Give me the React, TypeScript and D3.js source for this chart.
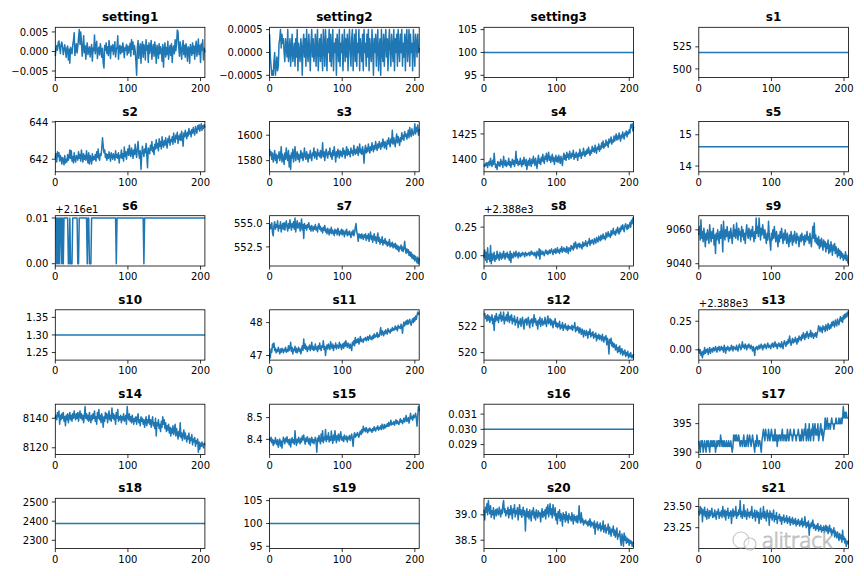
import React from "react";
import * as d3 from "d3";

// ---------------- data (index = cycle 0..206) ----------------
const cycleCount = 207;
const xMax = 206;
const xTicks = [0, 100, 200];

const setting1 = [
-0.0012,0.0008,0.0015,0.0003,0.0022,0.0027,0.001,-0.0005,0.0018,0.0024,
0.0012,-0.0008,0.0005,0.0017,0.0002,-0.0015,0.0009,0.0014,-0.0022,0.0006,
-0.003,0.0011,0.0003,-0.0006,0.0016,0.0028,0.0048,-0.001,0.0005,0.002,
-0.0004,0.0012,0.0035,0.0056,0.0018,0.005,0.0025,-0.0012,0.0008,0.004,
-0.0003,0.0015,-0.002,0.0007,0.0022,-0.0008,0.0003,0.0012,-0.0014,0.0005,
0.0018,-0.0025,0.0009,0.0002,0.0042,-0.0006,0.0014,0.0026,-0.0018,0.0004,
0.0011,-0.0009,0.002,0.0006,-0.0015,0.0008,-0.003,-0.0042,0.0015,0.0003,
0.0022,-0.0005,0.0012,-0.001,0.0028,0.0006,-0.0018,0.0014,0.0002,0.0017,
-0.0008,0.0009,0.0025,-0.0014,0.0004,0.0011,0.004,-0.002,0.0007,0.0016,
-0.0006,0.0013,-0.0002,0.0022,0.0005,-0.0016,0.001,0.0003,0.0018,-0.0009,
0.0014,-0.0004,0.0008,0.0021,-0.0012,0.003,0.0006,0.0024,-0.0008,0.0015,
0.0002,-0.0025,-0.0061,0.001,0.0028,-0.0018,0.0005,0.002,-0.003,0.0012,
0.0025,-0.0015,0.0018,0.0008,-0.0022,0.003,0.0003,0.0015,-0.0028,0.0022,
-0.0005,0.001,0.0028,-0.002,0.0006,0.0018,-0.0012,0.0024,0.0004,-0.003,
0.0016,0.0008,-0.0018,0.002,-0.0006,0.0012,0.0003,-0.0025,0.0018,-0.004,
0.0006,0.0022,-0.0014,0.001,-0.0008,0.0026,-0.002,0.0004,0.0015,-0.001,
0.002,-0.0028,0.0008,0.0014,-0.0006,0.003,0.0002,0.0018,0.0055,0.005,
0.001,-0.0012,0.0025,0.0005,-0.002,0.0012,0.0028,-0.0008,0.0016,-0.0015,
0.002,0.0004,-0.0025,0.0012,0.0008,-0.003,0.0018,0.0006,-0.001,0.0022,
-0.0005,0.0014,-0.002,0.001,0.0026,-0.0012,0.0005,0.0032,-0.0008,0.0015,
-0.0028,0.002,0.0003,0.003,-0.0022,0.0008,-0.0002];

const setting2 = [
0.0004,-0.0001,-0.0003,-0.0005,-0.0004,-0.0005,-0.0002,0,-0.0005,-0.0003,
-0.0001,-0.0004,-0.0003,0.0002,0.0003,0.0005,0.0001,0.0004,0.0002,0.0003,
0,-0.0002,0.0003,0.0001,-0.0001,0.0005,-0.0002,0,0.0003,-0.0003,
0.0001,0.0004,-0.0002,0,0.0002,-0.0003,0.0003,-0.0001,0.0005,-0.0004,
0.0002,0,-0.0002,0.0003,0.0001,-0.0005,0.0002,0.0004,-0.0001,0.0003,
-0.0003,0.0005,0,-0.0002,0.0004,0.0001,-0.0004,0.0002,0.0005,-0.0001,
0.0003,-0.0002,0,0.0004,-0.0003,0.0002,0.0005,-0.0004,0.0001,0.0003,
-0.0002,0.0004,0,-0.0004,0.0005,0.0002,-0.0003,0.0005,0.0001,-0.0004,
0.0003,0,0.0005,-0.0002,0.0004,-0.0003,0.0001,0.0005,-0.0004,0.0002,
0,0.0003,-0.0005,0.0004,0.0001,-0.0002,0.0005,-0.0003,0.0002,0,
0.0004,-0.0004,0.0001,0.0005,-0.0002,0.0003,-0.0001,0.0004,-0.0004,0.0002,
0.0005,0,-0.0003,0.0003,0.0005,-0.0004,0.0001,0.0004,-0.0002,0.0005,
-0.0003,0.0002,0,0.0005,-0.0004,0.0003,0.0001,-0.0002,0.0004,-0.0004,
0.0005,0,0.0002,-0.0003,0.0004,-0.0001,0.0005,-0.0004,0.0003,0,
-0.0002,0.0005,0.0001,-0.0005,0.0003,0,0.0004,-0.0003,0.0002,0.0005,
-0.0004,0.0001,0.0003,-0.0005,0.0005,0,-0.0002,0.0004,-0.0003,0.0002,
0.0005,-0.0001,0.0003,-0.0004,0.0002,0.0005,0,-0.0003,0.0004,0.0001,
-0.0002,0.0005,-0.0004,0.0003,0,0.0004,-0.0003,0.0005,0.0001,-0.0002,
0.0004,0,0.0005,-0.0003,0.0002,-0.0001,0.0004,-0.0004,0.0003,0.0005,
-0.0002,0.0001,0.0005,-0.0003,0.0004,0,0.0002,-0.0004,0.0005,0.0001,
-0.0003,0.0004,0.0002,-0.0001,0.0004,0,0.0001];

const setting3 = 100;
const s1 = 518.67;

const s2 = [
642.05,642.30,641.85,642.40,642.15,642.35,641.90,642.20,642.05,641.75,
642.10,641.95,641.70,642.20,641.80,642.00,641.85,642.25,641.95,642.10,
642.50,642.05,642.45,641.90,642.15,641.80,642.35,642.00,641.85,642.20,
642.10,641.95,642.40,642.05,642.25,641.90,642.50,642.15,641.85,642.30,
642.00,642.20,641.95,642.45,642.10,641.80,642.35,641.75,642.20,642.05,
641.75,642.30,641.95,642.15,642.00,642.25,641.90,642.40,642.10,642.55,
642.05,641.95,642.30,642.20,642.60,643.15,642.70,642.35,642.50,642.10,
642.30,641.95,642.25,642.05,642.40,642.15,641.90,642.35,642.20,642.00,
642.30,642.15,641.95,642.45,642.10,642.25,642.05,642.35,641.80,642.20,
642.10,642.50,642.05,642.30,641.90,642.65,642.15,642.40,642.00,642.35,
642.55,642.20,642.75,642.30,642.15,642.60,642.40,642.05,642.50,642.25,
642.80,642.35,642.10,642.60,642.95,642.30,642.05,642.45,641.45,642.20,
642.70,642.40,642.15,642.55,642.35,642.85,642.20,641.55,642.60,642.45,
642.30,642.75,642.50,642.95,642.40,642.65,642.25,642.80,642.55,643.05,
642.60,642.85,642.45,643.10,642.70,642.95,642.55,643.20,642.80,642.65,
643.00,642.75,643.15,642.85,642.60,643.10,642.90,643.25,642.75,643.05,
642.95,643.20,642.80,643.40,643.05,642.90,643.30,643.10,643.45,642.85,
643.25,643.05,643.35,643.00,643.50,643.15,642.70,643.40,643.20,643.55,
643.30,643.10,643.45,643.25,643.65,643.35,643.50,643.20,643.60,643.40,
643.70,643.45,643.30,643.75,643.55,643.40,643.80,643.60,643.85,643.50,
643.75,643.90,643.55,643.80,643.65,643.85,643.70];

const s3 = [
1589,1584,1587,1581,1586,1579,1583,1588,1580,1585,
1578,1584,1582,1587,1580,1583,1591,1579,1585,1582,
1577,1586,1581,1590,1583,1580,1588,1575,1584,1573,
1586,1582,1589,1579,1585,1591,1580,1584,1587,1581,
1585,1579,1583,1588,1582,1586,1580,1584,1590,1583,
1581,1587,1584,1579,1585,1582,1588,1583,1580,1586,
1584,1590,1582,1587,1585,1581,1589,1584,1586,1583,
1588,1582,1585,1594,1583,1587,1580,1586,1589,1584,
1582,1587,1585,1590,1583,1586,1581,1588,1584,1591,
1585,1579,1587,1583,1589,1586,1582,1588,1584,1587,
1583,1590,1585,1588,1582,1586,1591,1584,1589,1585,
1587,1583,1590,1586,1588,1584,1592,1587,1585,1589,
1586,1591,1584,1588,1593,1586,1589,1585,1591,1587,
1578,1588,1592,1586,1590,1587,1593,1589,1586,1591,
1588,1594,1590,1587,1592,1589,1595,1591,1588,1593,
1590,1595,1592,1589,1594,1591,1597,1593,1590,1595,
1592,1589,1596,1593,1598,1594,1591,1597,1594,1604,
1593,1598,1595,1591,1597,1601,1594,1599,1596,1592,
1598,1595,1602,1597,1600,1596,1603,1599,1601,1597,
1600,1604,1598,1606,1601,1599,1605,1602,1600,1603,
1609,1601,1606,1603,1608,1600,1605];

const s4 = [
1395,1393,1396,1394,1397,1392,1396,1398,1394,1401,
1396,1393,1399,1395,1406,1397,1392,1395,1390,1398,
1394,1397,1393,1400,1395,1398,1392,1403,1396,1394,
1399,1393,1397,1395,1401,1394,1398,1392,1396,1400,
1395,1399,1393,1397,1408,1396,1400,1394,1398,1395,
1401,1396,1393,1399,1395,1402,1397,1394,1400,1390,
1396,1399,1394,1401,1397,1393,1400,1396,1403,1398,
1394,1401,1397,1391,1399,1404,1396,1400,1395,1402,
1398,1405,1399,1396,1403,1400,1406,1398,1402,1407,
1399,1403,1397,1401,1405,1398,1402,1395,1400,1404,
1398,1402,1397,1404,1400,1396,1403,1399,1394,1402,
1406,1400,1404,1399,1407,1402,1405,1400,1408,1403,
1401,1406,1403,1409,1400,1405,1402,1407,1404,1399,
1406,1403,1410,1405,1401,1407,1404,1411,1406,1403,
1408,1405,1410,1406,1412,1407,1404,1409,1406,1413,
1408,1411,1407,1414,1409,1406,1412,1410,1415,1408,
1413,1410,1416,1412,1418,1411,1415,1413,1419,1414,
1417,1412,1420,1416,1418,1422,1415,1419,1417,1423,
1418,1421,1425,1419,1423,1420,1426,1422,1418,1424,
1421,1427,1423,1420,1426,1424,1428,1422,1427,1425,
1429,1426,1434,1431,1435,1428,1432];

const s5 = 14.62;

// s6 sits at 21.61 except at these cycles, where it reads 21.60
const s6High = 21.61;
const s6Low = 21.6;
const s6LowCycles = [2, 4, 6, 9, 11, 18, 19, 21, 22, 23, 31, 32, 44, 47, 48, 49, 84, 122];

const s7 = [
554.3,554.9,554.5,555.1,554.0,553.7,554.8,555.2,554.4,554.9,
554.6,555.3,554.2,554.8,554.5,555.2,554.1,554.7,555.0,554.4,
555.1,554.3,554.9,555.3,554.6,554.2,555.0,554.5,555.4,554.8,
554.3,555.0,554.6,555.2,554.4,555.6,554.1,554.9,555.3,554.5,
554.8,555.1,554.2,554.7,555.5,554.3,554.9,553.4,555.0,554.5,
554.8,554.3,554.9,554.6,555.1,554.4,554.7,554.2,554.8,554.5,
554.2,554.7,554.4,554.9,554.3,554.6,554.1,554.8,555.0,554.4,
554.7,554.2,554.5,554.0,554.6,554.3,554.8,554.1,554.4,553.9,
554.5,554.2,553.8,554.4,554.0,554.6,553.9,554.3,554.1,553.7,
554.4,554.0,554.3,553.8,554.5,554.1,553.7,554.2,553.9,554.4,
553.8,554.3,554.0,553.6,554.2,553.9,554.4,553.7,554.1,553.8,
554.2,553.9,553.5,554.1,553.8,554.3,553.7,554.0,554.6,555.0,
554.1,553.8,553.1,553.9,553.5,553.8,553.4,553.9,553.6,553.3,
553.8,553.5,553.9,553.2,553.7,553.4,553.9,553.1,553.6,554.1,
553.3,553.7,553.0,553.5,553.9,553.2,553.6,552.9,553.4,554.0,
553.1,553.5,552.8,553.3,553.0,553.6,552.7,553.2,552.9,553.4,
552.8,553.1,552.6,553.0,552.7,553.3,552.5,552.9,552.6,553.0,
552.4,552.8,552.5,552.9,552.3,552.7,552.2,552.6,552.0,552.5,
552.3,552.7,552.1,552.5,552.0,552.4,553.1,552.2,551.8,552.3,
551.9,552.2,551.6,552.0,551.5,551.9,551.3,551.7,551.2,551.6,
551.0,551.5,551.2,550.8,551.4,550.7,551.3];

const s8 = [
2387.98,2388.05,2387.96,2388.03,2387.94,2388.07,2387.97,2388.01,2387.95,2388.09,
2387.93,2388.02,2387.96,2387.99,2388.03,2387.95,2388,2387.97,2388.04,2387.98,
2388.01,2387.96,2388.03,2387.99,2387.97,2388.02,2387.98,2388.04,2388,2387.97,
2388.02,2387.99,2388.03,2387.98,2388.01,2387.96,2388.04,2387.94,2388.02,2388,
2387.98,2388.03,2388.01,2387.99,2388.04,2388,2388.02,2387.98,2388.03,2388.01,
2387.99,2388.02,2388,2388.03,2388.01,2388.02,2387.99,2388.03,2388.02,2388,
2388.02,2388.01,2388.03,2388,2388.02,2388.04,2388.01,2388.03,2388.02,2388,
2388.03,2388.01,2387.98,2388.04,2388.02,2388,2388.06,2387.97,2388.05,2388.02,
2388.01,2388.04,2388.02,2388,2388.03,2388.05,2388.02,2388.04,2388.01,2388.03,
2388.05,2388.02,2388.04,2388.06,2388.03,2388.01,2388.05,2388.03,2388.06,2388.02,
2388.04,2388.07,2388.03,2388.05,2388.02,2388.06,2388.04,2388.08,2388.03,2388.05,
2388.07,2388.04,2388.06,2388.03,2388.08,2388.05,2388.02,2388.07,2388.06,2388.04,
2388.09,2388.06,2388.08,2388.05,2388.11,2388.07,2388.12,2388.09,2388.06,2388.1,
2388.08,2388.11,2388.07,2388.1,2388.09,2388.06,2388.12,2388.08,2388.11,2388.09,
2388.13,2388.1,2388.08,2388.12,2388.11,2388.15,2388.09,2388.13,2388.11,2388.14,
2388.12,2388.1,2388.15,2388.13,2388.11,2388.16,2388.14,2388.12,2388.17,2388.15,
2388.13,2388.18,2388.14,2388.16,2388.19,2388.15,2388.17,2388.14,2388.2,2388.16,
2388.18,2388.21,2388.17,2388.19,2388.16,2388.22,2388.18,2388.2,2388.24,2388.19,
2388.21,2388.18,2388.23,2388.2,2388.25,2388.22,2388.19,2388.24,2388.21,2388.26,
2388.23,2388.27,2388.24,2388.21,2388.26,2388.28,2388.25,2388.23,2388.27,2388.24,
2388.26,2388.29,2388.25,2388.31,2388.28,2388.33,2388.32];

const s9 = [
9057,9062,9054,9066,9055,9059,9053,9061,9056,9050,
9058,9054,9060,9056,9052,9063,9057,9053,9059,9055,
9061,9051,9057,9046,9058,9054,9060,9056,9052,9059,
9055,9063,9057,9047,9065,9058,9054,9060,9056,9062,
9057,9053,9059,9055,9061,9057,9052,9058,9063,9056,
9060,9055,9064,9058,9054,9061,9057,9059,9053,9062,
9056,9060,9054,9058,9052,9059,9063,9057,9055,9061,
9058,9054,9060,9056,9062,9057,9053,9059,9055,9067,
9058,9062,9056,9067,9060,9054,9061,9057,9063,9059,
9055,9060,9056,9052,9058,9054,9065,9057,9053,9048,
9058,9054,9060,9055,9062,9057,9053,9059,9055,9050,
9057,9053,9059,9055,9061,9056,9052,9058,9054,9060,
9056,9052,9058,9054,9050,9057,9053,9059,9055,9051,
9057,9053,9059,9055,9052,9058,9054,9056,9050,9055,
9057,9053,9058,9054,9056,9051,9057,9053,9055,9059,
9054,9056,9052,9058,9054,9050,9056,9062,9055,9064,
9053,9057,9052,9055,9051,9056,9049,9054,9050,9055,
9052,9048,9054,9050,9053,9047,9052,9049,9054,9046,
9051,9047,9053,9049,9045,9051,9048,9052,9046,9050,
9047,9044,9049,9045,9048,9043,9047,9044,9046,9042,
9045,9043,9047,9042,9045,9041,9040];

const s10 = 1.3;

const s11 = [
47.05,46.93,47.20,47.10,47.35,47.25,47.38,47.15,47.22,47.08,
47.18,47.12,47.25,47.15,47.05,47.20,47.10,47.22,47.16,47.08,
47.20,47.14,47.25,47.10,47.18,47.12,47.30,47.15,47.22,47.40,
47.12,47.25,47.05,47.20,47.15,47.28,47.10,47.22,47.08,47.18,
47.25,47.12,47.20,47.05,47.18,47.30,47.15,47.50,47.22,47.35,
47.18,47.28,47.12,47.25,47.20,47.32,47.15,47.25,47.40,47.18,
47.28,47.15,47.22,47.35,47.18,47.26,47.12,47.30,47.20,47.38,
47.22,47.15,47.30,47.25,47.45,47.18,47.28,47.00,47.22,47.32,
47.20,47.35,47.25,47.18,47.42,47.28,47.22,47.35,47.15,47.30,
47.25,47.38,47.20,47.32,47.28,47.22,47.40,47.26,47.34,47.18,
47.30,47.36,47.22,47.40,47.28,47.45,47.32,47.25,47.38,47.30,
47.22,47.35,47.28,47.15,47.40,47.32,47.45,47.30,47.55,47.38,
47.48,47.40,47.52,47.35,47.45,47.58,47.42,47.50,47.46,47.40,
47.52,47.48,47.55,47.45,47.50,47.58,47.46,47.54,47.62,47.50,
47.56,47.48,47.60,47.52,47.66,47.55,47.62,47.58,47.70,47.55,
47.64,47.58,47.72,47.85,47.62,47.75,47.68,47.60,47.74,47.66,
47.78,47.70,47.65,47.82,47.72,47.76,47.68,47.80,47.74,47.85,
47.76,47.82,47.78,47.90,47.80,47.86,47.75,47.92,47.84,47.88,
47.82,47.95,47.88,47.68,47.92,48.02,47.90,47.98,48.05,47.94,
48.08,47.96,48.02,48.10,47.98,47.92,48.05,48.12,48.00,48.15,
48.05,48.20,48.10,48.22,48.32,48.25,48.30];

const s12 = [
522.9,523.0,522.6,522.8,522.4,522.9,522.5,522.8,522.3,522.7,
522.5,522.9,522.2,522.6,521.7,522.8,522.4,523.0,522.5,522.7,
522.3,522.9,522.6,523.1,522.4,522.8,522.5,523.1,522.2,522.7,
522.5,522.9,522.4,523.1,522.6,522.3,522.8,522.5,522.9,522.2,
522.6,522.4,522.8,522.1,522.5,522.3,522.7,521.9,522.4,522.2,
522.6,522.0,522.4,522.7,522.2,521.8,522.5,522.3,522.6,522.1,
522.4,522.7,522.2,521.9,522.5,522.3,522.6,522.0,522.4,522.9,
522.3,522.6,522.1,522.4,521.8,522.5,522.2,522.7,522.0,522.3,
522.6,522.1,522.4,522.2,522.7,522.3,522.0,522.5,522.8,522.2,
522.4,522.6,522.1,522.5,522.3,521.9,522.4,522.2,522.6,522.0,
522.3,521.9,522.2,522.0,522.4,521.8,522.1,521.9,522.3,521.7,
522.1,521.9,522.2,521.8,522.0,521.7,522.1,521.8,522.0,521.9,
521.8,522.1,521.7,522.0,521.9,522.3,521.6,521.9,521.7,522.0,
521.8,521.5,521.9,521.7,521.4,521.8,521.6,521.2,521.7,521.5,
521.3,521.7,521.5,521.1,521.6,521.4,521.8,521.2,521.5,521.3,
521.6,521.1,521.4,521.2,521.5,520.9,521.3,521.1,521.4,521.0,
521.3,521.2,520.9,521.4,521.1,520.8,521.2,521.0,521.3,520.6,
521.1,520.8,519.9,521.0,520.7,521.1,520.5,520.8,520.4,520.7,
520.5,520.2,520.6,520.3,520.0,520.4,520.1,520.5,519.9,520.2,
520.3,519.8,520.1,519.9,520.2,519.7,520.0,519.8,520.1,519.6,
519.9,519.7,520.0,519.6,519.8,519.6,519.9];

const s13 = [
2388.01,2387.97,2388,2387.95,2387.98,2387.93,2387.99,2387.96,2388.02,2387.97,
2388,2387.98,2388.01,2387.96,2387.99,2388.02,2387.97,2388,2388.01,2387.98,
2388.02,2388,2387.99,2388.03,2388.01,2387.98,2388.02,2388,2388.03,2387.99,
2388.01,2388.03,2388,2388.02,2387.98,2388.04,2388.01,2387.97,2388.02,2388,
2388.03,2388.01,2387.99,2388.02,2388,2388.04,2388.02,2387.99,2388.03,2388.01,
2388.02,2388,2388.04,2388.01,2387.99,2388.03,2388.05,2388.02,2388,2388.03,
2388.07,2388.02,2388.04,2388.01,2388.05,2388.03,2388,2388.04,2388.02,2388.05,
2388.03,2388.01,2388.04,2388.02,2387.99,2388.03,2388,2387.95,2388.02,2388.01,
2388.03,2388,2388.02,2388.04,2388.01,2388.03,2388.05,2388.02,2388,2388.04,
2388.02,2388.05,2388.03,2388.01,2388.04,2388.06,2388.02,2388.04,2388.03,2388.01,
2388.05,2388.03,2388.06,2388.02,2388.04,2388.07,2388.03,2388.05,2388.01,2388.04,
2388.06,2388.03,2388.05,2388.02,2388.07,2388.04,2388.01,2388.06,2388.08,2388.05,
2388.03,2388.07,2388.05,2388.09,2388.06,2388.12,2388.08,2388.04,2388.07,2388.1,
2388.06,2388.09,2388.07,2388.11,2388.08,2388.05,2388.1,2388.07,2388.12,2388.09,
2388.11,2388.08,2388.13,2388.1,2388.15,2388.12,2388.09,2388.14,2388.11,2388.16,
2388.13,2388.1,2388.14,2388.12,2388.17,2388.11,2388.15,2388.13,2388.1,2388.14,
2388.12,2388.15,2388.11,2388.14,2388.17,2388.21,2388.19,2388.16,2388.2,2388.18,
2388.15,2388.21,2388.18,2388.2,2388.16,2388.22,2388.19,2388.17,2388.23,2388.2,
2388.18,2388.22,2388.19,2388.24,2388.21,2388.25,2388.22,2388.2,2388.26,2388.23,
2388.21,2388.27,2388.24,2388.22,2388.26,2388.29,2388.25,2388.28,2388.24,2388.3,
2388.27,2388.31,2388.28,2388.32,2388.29,2388.33,2388.31];

const s14 = [
8140,8142,8139,8144,8141,8145,8136,8142,8139,8143,
8140,8144,8138,8141,8135,8142,8139,8143,8137,8141,
8144,8139,8142,8138,8143,8140,8145,8141,8139,8143,
8140,8144,8138,8142,8145,8140,8143,8139,8142,8137,
8141,8148,8140,8143,8139,8142,8138,8144,8140,8137,
8142,8139,8143,8140,8145,8138,8141,8136,8144,8140,
8146,8139,8142,8137,8143,8140,8134,8141,8138,8144,
8140,8143,8137,8141,8145,8139,8142,8138,8147,8140,
8143,8139,8142,8136,8144,8140,8146,8138,8141,8139,
8142,8137,8141,8139,8143,8138,8140,8142,8136,8148,
8141,8139,8143,8138,8141,8137,8142,8139,8136,8140,
8138,8141,8136,8140,8143,8137,8139,8135,8141,8138,
8140,8136,8139,8134,8138,8141,8135,8139,8137,8142,
8136,8139,8134,8138,8141,8135,8137,8133,8140,8128,
8137,8135,8139,8133,8136,8131,8138,8134,8141,8136,
8139,8133,8137,8131,8135,8132,8136,8130,8134,8128,
8133,8130,8135,8129,8132,8136,8128,8133,8130,8126,
8131,8128,8137,8127,8130,8125,8129,8132,8126,8130,
8127,8124,8128,8126,8130,8123,8127,8125,8129,8122,
8126,8124,8127,8121,8125,8123,8126,8117,8124,8119,
8123,8121,8124,8122,8120,8123,8122];

const s15 = [
8.405,8.392,8.410,8.385,8.400,8.372,8.395,8.380,8.408,8.390,
8.376,8.398,8.364,8.388,8.402,8.370,8.392,8.360,8.385,8.410,
8.395,8.380,8.405,8.390,8.412,8.385,8.398,8.375,8.402,8.365,
8.390,8.408,8.385,8.398,8.378,8.440,8.392,8.372,8.400,8.385,
8.410,8.394,8.380,8.405,8.388,8.415,8.398,8.420,8.392,8.378,
8.406,8.390,8.412,8.395,8.380,8.404,8.372,8.398,8.410,8.385,
8.400,8.380,8.395,8.410,8.388,8.341,8.405,8.390,8.418,8.395,
8.380,8.425,8.392,8.440,8.385,8.410,8.398,8.445,8.390,8.415,
8.400,8.430,8.388,8.412,8.395,8.438,8.402,8.382,8.420,8.396,
8.440,8.405,8.385,8.418,8.398,8.425,8.392,8.410,8.435,8.400,
8.395,8.412,8.390,8.420,8.405,8.398,8.415,8.388,8.410,8.402,
8.418,8.395,8.408,8.425,8.400,8.368,8.415,8.430,8.410,8.424,
8.416,8.432,8.420,8.410,8.428,8.438,8.422,8.445,8.430,8.460,
8.440,8.450,8.435,8.455,8.442,8.430,8.448,8.438,8.452,8.440,
8.445,8.432,8.450,8.440,8.458,8.445,8.438,8.455,8.448,8.462,
8.442,8.455,8.448,8.462,8.445,8.470,8.455,8.448,8.468,8.452,
8.465,8.458,8.472,8.460,8.478,8.462,8.470,8.488,8.466,8.475,
8.470,8.482,8.465,8.478,8.490,8.472,8.485,8.475,8.468,8.482,
8.495,8.478,8.488,8.472,8.484,8.498,8.480,8.490,8.510,8.482,
8.488,8.500,8.475,8.492,8.520,8.495,8.505,8.488,8.512,8.498,
8.505,8.520,8.496,8.460,8.510,8.551,8.530];

const s16 = 0.03;

const s17 = [
392,391,390,392,391,392,390,391,392,391,
390,392,391,392,391,390,392,391,392,391,
392,391,392,390,391,392,391,392,392,391,
393,392,391,392,391,392,391,391,392,391,
391,392,391,391,392,391,390,391,393,392,
393,392,393,392,392,393,392,391,392,392,
391,392,393,391,392,391,392,393,391,392,
393,392,391,392,393,392,391,390,392,391,
393,392,391,392,392,391,390,392,393,394,
393,392,394,393,393,392,394,393,392,393,
394,393,392,393,392,394,392,393,391,393,
392,393,393,392,393,394,392,393,393,392,
393,392,394,393,392,393,394,393,393,392,
393,394,393,393,392,393,393,394,393,392,
393,392,394,393,392,394,393,395,392,393,
394,392,395,393,392,394,393,395,392,394,
395,393,394,393,395,392,393,394,395,393,
394,392,393,394,396,394,395,396,394,395,
395,394,395,396,395,395,394,395,395,396,
395,395,395,396,395,395,396,395,396,398,
396,397,396,397,396,396,396];

const s18 = 2388;
const s19 = 100;

const s20 = [
39.10,38.90,39.15,39.05,39.22,39.00,39.28,39.12,39.02,39.18,
38.95,39.08,39.00,39.14,38.92,39.05,39.10,38.98,39.12,39.04,
39.00,39.15,39.06,38.96,39.10,39.02,39.20,39.28,39.05,39.12,
38.98,39.08,39.02,39.15,38.94,39.10,39.00,39.18,39.05,38.92,
39.12,39.04,39.20,38.96,39.08,39.02,39.14,38.90,39.06,39.20,
39.00,39.10,38.95,39.05,39.15,38.98,39.08,38.68,39.02,39.12,
38.96,39.06,38.92,39.10,39.00,38.88,39.08,39.00,39.14,38.94,
39.05,38.90,39.10,39.00,38.94,39.08,38.98,39.04,38.86,39.02,
39.12,38.95,39.06,38.98,39.10,38.92,39.15,39.02,39.20,38.96,
39.08,39.22,39.00,39.12,38.94,39.20,39.05,38.98,39.14,38.90,
39.02,38.82,39.06,38.94,39.10,38.88,39.02,38.96,38.78,39.04,
38.92,39.00,38.86,39.06,38.90,38.98,38.84,39.02,38.92,38.96,
38.88,39.04,38.94,38.82,39.00,38.90,38.96,38.86,38.98,38.84,
38.94,39.18,38.90,38.84,39.04,38.86,38.92,38.80,38.88,38.84,
38.90,38.82,38.86,38.78,38.88,38.80,38.92,38.76,38.86,38.80,
38.84,38.74,38.88,38.62,38.82,38.76,38.86,38.70,38.80,38.74,
38.84,38.68,38.78,38.72,38.88,38.66,38.76,38.80,38.64,38.74,
38.70,38.82,38.62,38.76,38.68,38.58,38.72,38.66,38.78,38.60,
38.70,38.56,38.66,38.74,38.52,38.62,38.58,38.68,38.48,38.40,
38.62,38.56,38.38,38.64,38.50,38.58,38.44,38.54,38.46,38.52,
38.40,38.50,38.44,38.48,38.38,38.46,38.42];

const s21 = [
23.45,23.40,23.50,23.42,23.48,23.32,23.46,23.40,23.49,23.38,
23.44,23.35,23.47,23.41,23.36,23.45,23.39,23.43,23.48,23.37,
23.42,23.38,23.46,23.40,23.35,23.44,23.41,23.47,23.36,23.43,
23.39,23.45,23.37,23.50,23.42,23.38,23.46,23.34,23.44,23.40,
23.48,23.36,23.43,23.39,23.45,23.30,23.42,23.47,23.38,23.44,
23.40,23.50,23.36,23.43,23.39,23.46,23.41,23.57,23.38,23.44,
23.36,23.42,23.52,23.38,23.45,23.40,23.35,23.47,23.39,23.43,
23.37,23.44,23.40,23.50,23.36,23.42,23.38,23.46,23.33,23.41,
23.45,23.37,23.43,23.30,23.40,23.48,23.35,23.42,23.38,23.50,
23.36,23.44,23.39,23.33,23.46,23.38,23.42,23.28,23.45,23.37,
23.42,23.34,23.40,23.46,23.32,23.39,23.35,23.43,23.30,23.38,
23.36,23.41,23.33,23.38,23.29,23.37,23.34,23.40,23.31,23.36,
23.33,23.39,23.30,23.36,23.32,23.38,23.28,23.35,23.31,23.37,
23.29,23.34,23.30,23.36,23.27,23.33,23.29,23.35,23.31,23.27,
23.33,23.29,23.36,23.26,23.32,23.28,23.38,23.30,23.25,23.31,
23.27,23.33,23.16,23.29,23.25,23.31,23.27,23.34,23.24,23.29,
23.26,23.22,23.28,23.24,23.30,23.21,23.26,23.23,23.28,23.20,
23.25,23.22,23.27,23.19,23.24,23.28,23.21,23.26,23.18,23.23,
23.28,23.20,23.24,23.16,23.22,23.19,23.25,23.14,23.21,23.17,
23.13,23.20,23.15,23.10,23.18,23.12,23.16,23.08,23.22,23.11,
23.14,23.07,23.12,23.03,23.09,23.06,23.10];

// ---------------- panel definitions ----------------
type Panel = {
  title: string;
  values: number[] | number;
  ticks: number[];
  decimals: number;
  offset?: number;
  offsetLabel?: string;
};

const s6Series = d3.range(cycleCount).map((c) => (s6LowCycles.includes(c) ? s6Low : s6High));

const panels: Panel[] = [
  { title: "setting1", values: setting1, ticks: [-0.005, 0, 0.005], decimals: 3 },
  { title: "setting2", values: setting2, ticks: [-0.0005, 0, 0.0005], decimals: 4 },
  { title: "setting3", values: setting3, ticks: [95, 100, 105], decimals: 0 },
  { title: "s1", values: s1, ticks: [500, 525], decimals: 0 },
  { title: "s2", values: s2, ticks: [642, 644], decimals: 0 },
  { title: "s3", values: s3, ticks: [1580, 1600], decimals: 0 },
  { title: "s4", values: s4, ticks: [1400, 1425], decimals: 0 },
  { title: "s5", values: s5, ticks: [14, 15], decimals: 0 },
  { title: "s6", values: s6Series, ticks: [21.6, 21.61], decimals: 2, offset: 21.6, offsetLabel: "+2.16e1" },
  { title: "s7", values: s7, ticks: [552.5, 555], decimals: 1 },
  { title: "s8", values: s8, ticks: [2388, 2388.25], decimals: 2, offset: 2388, offsetLabel: "+2.388e3" },
  { title: "s9", values: s9, ticks: [9040, 9060], decimals: 0 },
  { title: "s10", values: s10, ticks: [1.25, 1.3, 1.35], decimals: 2 },
  { title: "s11", values: s11, ticks: [47, 48], decimals: 0 },
  { title: "s12", values: s12, ticks: [520, 522], decimals: 0 },
  { title: "s13", values: s13, ticks: [2388, 2388.25], decimals: 2, offset: 2388, offsetLabel: "+2.388e3" },
  { title: "s14", values: s14, ticks: [8120, 8140], decimals: 0 },
  { title: "s15", values: s15, ticks: [8.4, 8.5], decimals: 1 },
  { title: "s16", values: s16, ticks: [0.029, 0.03, 0.031], decimals: 3 },
  { title: "s17", values: s17, ticks: [390, 395], decimals: 0 },
  { title: "s18", values: s18, ticks: [2300, 2400, 2500], decimals: 0 },
  { title: "s19", values: s19, ticks: [95, 100, 105], decimals: 0 },
  { title: "s20", values: s20, ticks: [38.5, 39], decimals: 1 },
  { title: "s21", values: s21, ticks: [23.25, 23.5], decimals: 2 },
];

// ---------------- layout ----------------
const W = 864;
const H = 576;
const colLeft = [55.3, 269.6, 484.0, 698.8];
const rowTop = [27.3, 121.5, 215.7, 309.8, 404.2, 498.3];
const axW = 149.6;
const axH = 50.3;
const FONT = "DejaVu Sans, Verdana, sans-serif";
const BLUE = "#1f77b4";

function yDomain(vals: number[]): [number, number] {
  let lo = d3.min(vals) as number;
  let hi = d3.max(vals) as number;
  if (hi - lo < 1e-12) {
    const d = Math.abs(lo) * 0.05 || 1;
    lo -= d;
    hi += d;
  }
  const m = (hi - lo) * 0.05;
  return [lo - m, hi + m];
}

function PanelView({ p, i }: { p: Panel; i: number }) {
  const left = colLeft[i % 4];
  const top = rowTop[Math.floor(i / 4)];
  const isConst = typeof p.values === "number";
  const pts: [number, number][] = isConst
    ? [
        [0, p.values as number],
        [xMax, p.values as number],
      ]
    : (p.values as number[]).map((v, k) => [k, v]);
  const yd = yDomain(pts.map((d) => d[1]));
  const x = d3.scaleLinear().domain([0, xMax]).range([left, left + axW]);
  const y = d3.scaleLinear().domain(yd).range([top + axH, top]);
  const line = d3
    .line<[number, number]>()
    .x((d) => x(d[0]))
    .y((d) => y(d[1]));
  const fmt = d3.format(`.${p.decimals}f`);
  const label = (t: number) =>
    p.offset !== undefined ? (t - p.offset).toFixed(p.decimals) : fmt(t);
  const yt = p.ticks.filter((t) => t >= yd[0] && t <= yd[1]);
  return (
    <g>
      <path d={line(pts) || ""} fill="none" stroke={BLUE} strokeWidth={1.5} strokeLinejoin="round" />
      <rect x={left} y={top} width={axW} height={axH} fill="none" stroke="#000" strokeWidth={0.8} />
      {xTicks.map((t) => (
        <g key={"x" + t}>
          <line x1={x(t)} x2={x(t)} y1={top + axH} y2={top + axH + 3.5} stroke="#000" strokeWidth={0.8} />
          <text x={x(t)} y={top + axH + 14.2} textAnchor="middle" fontSize={10} fontFamily={FONT} fill="#000">
            {t}
          </text>
        </g>
      ))}
      {yt.map((t) => (
        <g key={"y" + t}>
          <line x1={left - 3.5} x2={left} y1={y(t)} y2={y(t)} stroke="#000" strokeWidth={0.8} />
          <text x={left - 7} y={y(t) + 3.6} textAnchor="end" fontSize={10} fontFamily={FONT} fill="#000">
            {label(t)}
          </text>
        </g>
      ))}
      {p.offsetLabel && (
        <text x={left} y={top - 2.5} fontSize={10} fontFamily={FONT} fill="#000">
          {p.offsetLabel}
        </text>
      )}
      <text x={left + axW / 2} y={top - 6} textAnchor="middle" fontSize={12} fontWeight="bold" fontFamily={FONT} fill="#000">
        {p.title}
      </text>
    </g>
  );
}

export default function App() {
  return (
    <svg
      width={W}
      height={H}
      viewBox={`0 0 ${W} ${H}`}
      style={{ position: "absolute", left: 0, top: 0, background: "#fff" }}
    >
      <rect x={0} y={0} width={W} height={H} fill="#fff" />
      {panels.map((p, i) => (
        <PanelView key={p.title} p={p} i={i} />
      ))}
      {/* watermark */}
      <g opacity={0.75}>
        <circle cx={741} cy={540} r={8} fill="none" stroke="#b5b5b5" strokeWidth={1.2} />
        <circle cx={750} cy={544} r={6} fill="#fff" fillOpacity={0.6} stroke="#b5b5b5" strokeWidth={1.2} />
        <text x={762} y={548} fontSize={22} fontFamily="Open Sans, DejaVu Sans, sans-serif" fontWeight={300}
          fill="#fff" fillOpacity={0.5} stroke="#a8a8a8" strokeWidth={0.9}>
          alitrack
        </text>
      </g>
    </svg>
  );
}
